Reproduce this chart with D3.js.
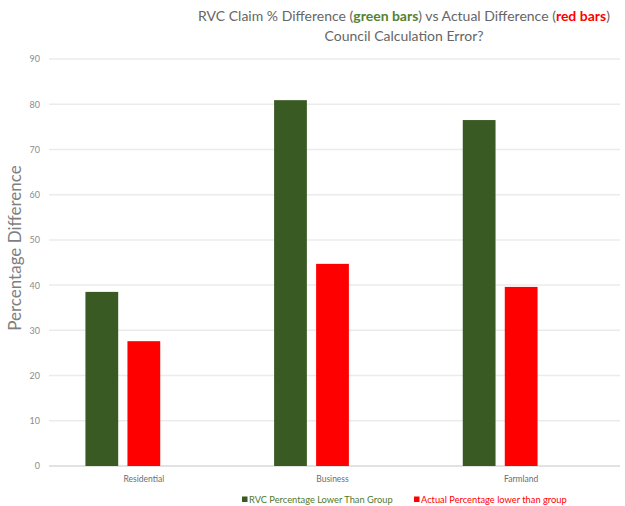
<!DOCTYPE html>
<html>
<head>
<meta charset="utf-8">
<script src="https://cdn.jsdelivr.net/npm/d3@7"></script>
<style>
  html, body { margin: 0; padding: 0; background: #fff; }
  svg { display: block; }
</style>
</head>
<body>
<svg id="chart" width="625" height="506"></svg>
<script>
// Property categories and the two compared series
const categories = ["Residential", "Business", "Farmland"];
const rvcClaimed = [38.5, 80.9, 76.5];     // RVC Percentage Lower Than Group
const actualDiff = [27.6, 44.7, 39.6];     // Actual Percentage lower than group
const yTicks = [0, 10, 20, 30, 40, 50, 60, 70, 80, 90];
const seriesNames = ["RVC Percentage Lower Than Group", "Actual Percentage lower than group"];
const seriesColors = ["#3a5a24", "#ff0000"];

const svg = d3.select("#chart");
const font = "Lato, 'Open Sans', sans-serif";

// Scales
const x = d3.scaleBand().domain(categories).range([49.5, 615.5]).paddingInner(0).paddingOuter(0);
// three slots per category; the labelled centre sits on the second slot
const slot = d3.scaleBand().domain([0, 1, 2]).range([-58.4, 58.4]).paddingInner(0.22).paddingOuter(0);
const y = d3.scaleLinear().domain([0, 90]).range([466, 59]);

// Gridlines
svg.append("g")
  .selectAll("line")
  .data(yTicks)
  .join("line")
  .attr("x1", 49).attr("x2", 620)
  .attr("y1", d => y(d)).attr("y2", d => y(d))
  .attr("stroke", d => d === 0 ? "#d9d9d9" : "#ebebeb")
  .attr("stroke-width", 1.5);

// Y axis labels
const yAxis = d3.axisLeft(y).tickValues(yTicks).tickSize(0).tickPadding(0);
const yg = svg.append("g").attr("transform", "translate(40,0)").call(yAxis);
yg.select(".domain").remove();
yg.selectAll("text")
  .attr("font-family", font).attr("font-size", 9).attr("fill", "#8c8c8c");

// Bars
const series = [rvcClaimed, actualDiff];
const bars = svg.append("g");
series.forEach((vals, si) => {
  bars.selectAll(null)
    .data(categories.map((c, i) => ({ c, v: vals[i] })))
    .join("rect")
    .attr("x", d => x(d.c) + x.bandwidth() / 2 + slot(si))
    .attr("width", slot.bandwidth())
    .attr("y", d => y(d.v))
    .attr("height", d => y(0) - y(d.v))
    .attr("fill", seriesColors[si]);
});

// Category labels
const xAxis = d3.axisBottom(x).tickSize(0).tickPadding(0);
const xg = svg.append("g").attr("transform", "translate(0,476)").call(xAxis);
xg.select(".domain").remove();
xg.selectAll("text")
  .attr("font-family", font).attr("font-size", 8.5).attr("fill", "#6d6d6d");

// Y axis title
svg.append("text")
  .attr("transform", "translate(21,248) rotate(-90)")
  .attr("text-anchor", "middle")
  .attr("font-family", font).attr("font-size", 17)
  .attr("fill", "#7f7f7f")
  .text("Percentage Difference");

// Title
const title = svg.append("text")
  .attr("x", 404).attr("y", 21)
  .attr("text-anchor", "middle")
  .attr("font-family", font).attr("font-size", 14)
  .attr("fill", "#666666");
title.append("tspan").text("RVC Claim % Difference (");
title.append("tspan").attr("font-weight", "bold").attr("fill", "#548235").text("green bars");
title.append("tspan").text(") vs Actual Difference (");
title.append("tspan").attr("font-weight", "bold").attr("fill", "#ff0000").text("red bars");
title.append("tspan").text(")");

svg.append("text")
  .attr("x", 404).attr("y", 41)
  .attr("text-anchor", "middle")
  .attr("font-family", font).attr("font-size", 14)
  .attr("fill", "#666666")
  .text("Council Calculation Error?");

// Legend
const legendX = [242, 414];
const legend = svg.append("g");
seriesNames.forEach((name, i) => {
  legend.append("rect")
    .attr("x", legendX[i]).attr("y", 496.5)
    .attr("width", 5.5).attr("height", 5.5)
    .attr("fill", seriesColors[i]);
  legend.append("text")
    .attr("x", legendX[i] + 7).attr("y", 502.5)
    .attr("font-family", font).attr("font-size", 9.3)
    .attr("fill", i === 0 ? "#4f7a2e" : "#ff0000")
    .text(name);
});
</script>
</body>
</html>
